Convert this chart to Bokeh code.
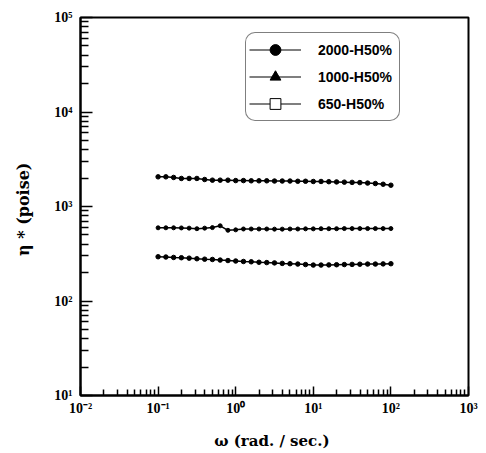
from bokeh.plotting import figure
from bokeh.models import (Range1d, FixedTicker, Legend, LegendItem, ColumnDataSource)
from bokeh.embed import file_html
from bokeh.resources import INLINE

# ---------------- data ----------------
omega = [0.1, 0.1259, 0.1585, 0.1995, 0.2512, 0.3162, 0.3981, 0.5012, 0.631, 0.7943,
         1.0, 1.259, 1.585, 1.995, 2.512, 3.162, 3.981, 5.012, 6.31, 7.943,
         10.0, 12.59, 15.85, 19.95, 25.12, 31.62, 39.81, 50.12, 63.1, 79.43, 100.0]

eta_2000 = [2060, 2060, 2030, 1980, 1980, 1980, 1930, 1900, 1900, 1900,
            1880, 1880, 1870, 1870, 1870, 1860, 1860, 1860, 1850, 1850,
            1840, 1840, 1830, 1820, 1810, 1800, 1790, 1770, 1750, 1720, 1680]

eta_1000 = [595, 595, 595, 593, 590, 582, 590, 598, 625, 560,
            566, 578, 578, 578, 578, 576, 576, 578, 578, 580,
            580, 582, 582, 582, 584, 584, 584, 584, 584, 584, 584]

eta_650 = [294, 292, 289, 287, 284, 280, 277, 275, 271, 268,
           265, 262, 260, 257, 255, 253, 250, 248, 246, 243,
           240, 240, 241, 242, 243, 244, 245, 246, 246, 247, 248]

series_labels = ["2000-H50%", "1000-H50%", "650-H50%"]

x_tick_values = [0.01, 0.1, 1, 10, 100, 1000]
x_tick_labels = ["10\u207b\u00b2", "10\u207b\u00b9", "10\u2070", "10\u00b9", "10\u00b2", "10\u00b3"]
y_tick_values = [10, 100, 1000, 10000, 100000]
y_tick_labels = ["10\u00b9", "10\u00b2", "10\u00b3", "10\u2074", "10\u2075"]

# ---------------- figure ----------------
p = figure(width=486, height=453, x_axis_type="log", y_axis_type="log",
           x_range=Range1d(0.01, 1000), y_range=Range1d(10, 100000),
           output_backend="svg", toolbar_location=None,
           min_border_left=80, min_border_right=18, min_border_top=17, min_border_bottom=58)
p.background_fill_color = "white"
p.border_fill_color = "white"
p.outline_line_color = "black"
p.outline_line_width = 2
p.xgrid.visible = False
p.ygrid.visible = False

x_minor = [m * 10.0 ** e for e in range(-2, 3) for m in range(2, 10)]
y_minor = [m * 10.0 ** e for e in range(1, 5) for m in range(2, 10)]
p.xaxis.ticker = FixedTicker(ticks=x_tick_values, minor_ticks=x_minor)
p.yaxis.ticker = FixedTicker(ticks=y_tick_values, minor_ticks=y_minor)
p.xaxis.major_label_overrides = dict(zip(x_tick_values, x_tick_labels))
p.yaxis.major_label_overrides = dict(zip(y_tick_values, y_tick_labels))

for ax in (p.xaxis[0], p.yaxis[0]):
    ax.axis_line_width = 2
    ax.axis_line_color = "black"
    ax.major_tick_out = 0
    ax.minor_tick_out = 0
    ax.major_tick_line_width = 1.5
    ax.minor_tick_line_width = 1.5
    ax.major_tick_line_color = "black"
    ax.minor_tick_line_color = "black"
    ax.major_label_text_font = "Liberation Serif"
    ax.major_label_text_font_style = "bold"
    ax.major_label_text_font_size = "14px"
    ax.major_label_text_color = "black"
    ax.axis_label_text_font = "DejaVu Serif"
    ax.axis_label_text_font_style = "bold"
    ax.axis_label_text_color = "black"

p.xaxis.major_tick_in = 9
p.xaxis.minor_tick_in = 6
p.yaxis.major_tick_in = 12
p.yaxis.minor_tick_in = 8
p.xaxis.major_label_standoff = 5
p.yaxis.major_label_standoff = 8

p.xaxis.axis_label = "\u03c9  (rad. / sec.)"
p.xaxis.axis_label_text_font_size = "15px"
p.xaxis.axis_label_standoff = 13
p.yaxis.axis_label = "\u03b7 *  (poise)"
p.yaxis.axis_label_text_font_size = "16px"
p.yaxis.axis_label_standoff = 18

# ---------------- data lines ----------------
src = ColumnDataSource(dict(omega=omega, a=eta_2000, b=eta_1000, c=eta_650))
for col, sz in (("a", 4.5), ("b", 4), ("c", 4.5)):
    p.line("omega", col, source=src, line_color="black", line_width=1.5)
    p.scatter("omega", col, source=src, marker="circle", size=sz,
              fill_color="black", line_color="black")

# ---------------- legend (style-only renderers, no visible points) ----------------
nan = float("nan")
empty = ColumnDataSource(dict(x=[nan], y=[nan]))
leg_line = p.line("x", "y", source=empty, line_color="black", line_width=1.2)
m_circ = p.scatter("x", "y", source=empty, marker="circle", size=13,
                   fill_color="black", line_color="black")
m_tri = p.scatter("x", "y", source=empty, marker="triangle", size=11,
                  fill_color="black", line_color="black")
m_sq = p.scatter("x", "y", source=empty, marker="square", size=12,
                 fill_color="white", line_color="black", line_width=1)

legend = Legend(items=[
    LegendItem(label=series_labels[0], renderers=[leg_line, m_circ]),
    LegendItem(label=series_labels[1], renderers=[leg_line, m_tri]),
    LegendItem(label=series_labels[2], renderers=[leg_line, m_sq]),
], location=(165, 274))
legend.glyph_width = 52
legend.glyph_height = 27
legend.spacing = 0
legend.padding = 3
legend.margin = 0
legend.label_standoff = 17
legend.label_width = 78
legend.label_height = 27
legend.label_text_font = "Liberation Sans"
legend.label_text_font_style = "bold"
legend.label_text_font_size = "14px"
legend.label_text_color = "black"
legend.border_line_color = "black"
legend.border_line_width = 1.5
legend.background_fill_color = "white"
legend.background_fill_alpha = 1.0
if "border_radius" in Legend.properties():
    legend.border_radius = 10
p.add_layout(legend, "center")

open("out.html", "w").write(file_html(p, INLINE))
